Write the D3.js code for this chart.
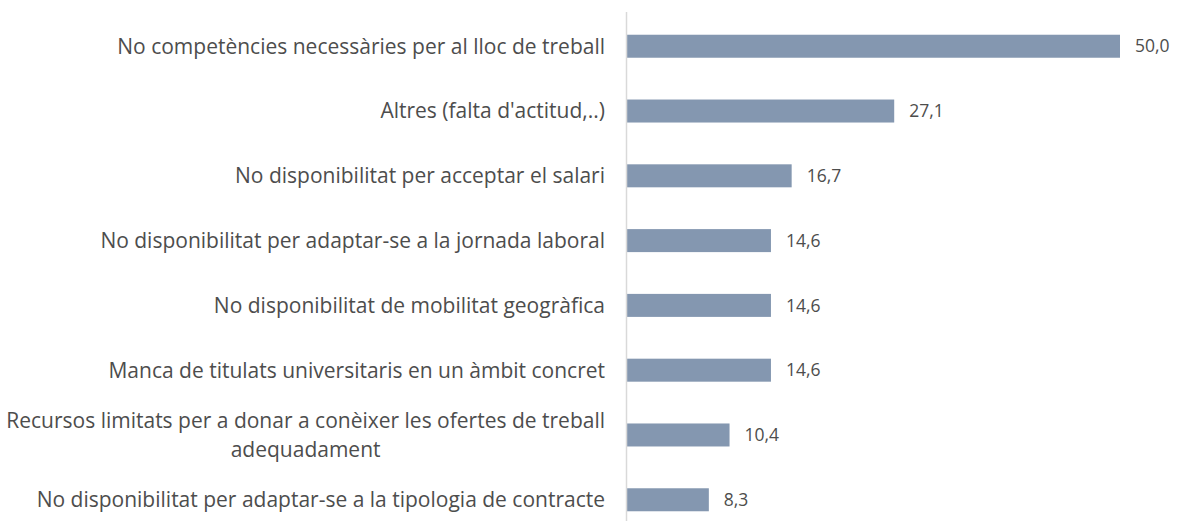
<!DOCTYPE html>
<html>
<head>
<meta charset="utf-8">
<title>bars</title>
<style>
  body { margin: 0; background: #fff; }
  text { font-family: "Open Sans", sans-serif; fill: #4d4d4d; }
</style>
</head>
<body>
<script src="https://cdn.jsdelivr.net/npm/d3@7"></script>
<script>
// categories top to bottom, each label split into lines
var categories = [
  ["No competències necessàries per al lloc de treball"],
  ["Altres (falta d'actitud,..)"],
  ["No disponibilitat per acceptar el salari"],
  ["No disponibilitat per adaptar-se a la jornada laboral"],
  ["No disponibilitat de mobilitat geogràfica "],
  ["Manca de titulats universitaris en un àmbit concret"],
  ["Recursos limitats per a donar a conèixer les ofertes de treball", "adequadament"],
  ["No disponibilitat per adaptar-se a la tipologia de contracte"]
];
var values = [50.0, 27.1, 16.7, 14.6, 14.6, 14.6, 10.4, 8.3];
var valueLabels = ["50,0", "27,1", "16,7", "14,6", "14,6", "14,6", "10,4", "8,3"];

var width = 1177, height = 523;
var axisX = 627;

var svg = d3.select("body").append("svg")
  .attr("width", width).attr("height", height);

var x = d3.scaleLinear().domain([0, 50]).range([axisX, 1120]);
var y = d3.scaleBand()
  .domain(d3.range(categories.length))
  .range([14, 532])
  .paddingInner(0.645)
  .paddingOuter(0.32);

// bars
svg.selectAll("rect.bar")
  .data(values)
  .enter().append("rect")
  .attr("class", "bar")
  .attr("x", x(0))
  .attr("y", function (d, i) { return y(i); })
  .attr("width", function (d) { return x(d) - x(0); })
  .attr("height", y.bandwidth())
  .attr("fill", "#8497b0");

// vertical axis line
svg.append("line")
  .attr("x1", axisX - 0.5).attr("x2", axisX - 0.5)
  .attr("y1", 12).attr("y2", 521)
  .attr("stroke", "#d9d9d9").attr("stroke-width", 1.5);

// value labels
svg.selectAll("text.val")
  .data(values)
  .enter().append("text")
  .attr("class", "val")
  .attr("x", function (d) { return x(d) + 15; })
  .attr("y", function (d, i) { return y(i) + y.bandwidth() / 2; })
  .attr("dy", "0.35em")
  .attr("font-size", "17.5px")
  .text(function (d, i) { return valueLabels[i]; });

// category labels
var lineH = 29;
var cat = svg.selectAll("text.cat")
  .data(categories)
  .enter().append("text")
  .attr("class", "cat")
  .attr("font-size", "21px")
  .attr("text-anchor", "middle")
  .attr("transform", function (d, i) {
    return "translate(0," + (y(i) + y.bandwidth() / 2) + ")";
  });

cat.each(function (lines) {
  var t = d3.select(this);
  var n = lines.length;
  t.selectAll("tspan").data(lines).enter().append("tspan")
    .attr("y", function (l, j) { return (j - (n - 1) / 2) * lineH; })
    .attr("dy", "0.35em")
    .text(function (l) { return l; });
  // right-align the block at the axis, centre the lines inside it
  var spans = t.selectAll("tspan").nodes();
  var w = d3.max(spans, function (s) { return s.getComputedTextLength(); });
  var cx = axisX - 22 - w / 2;
  t.selectAll("tspan").attr("x", cx);
});
</script>
</body>
</html>
